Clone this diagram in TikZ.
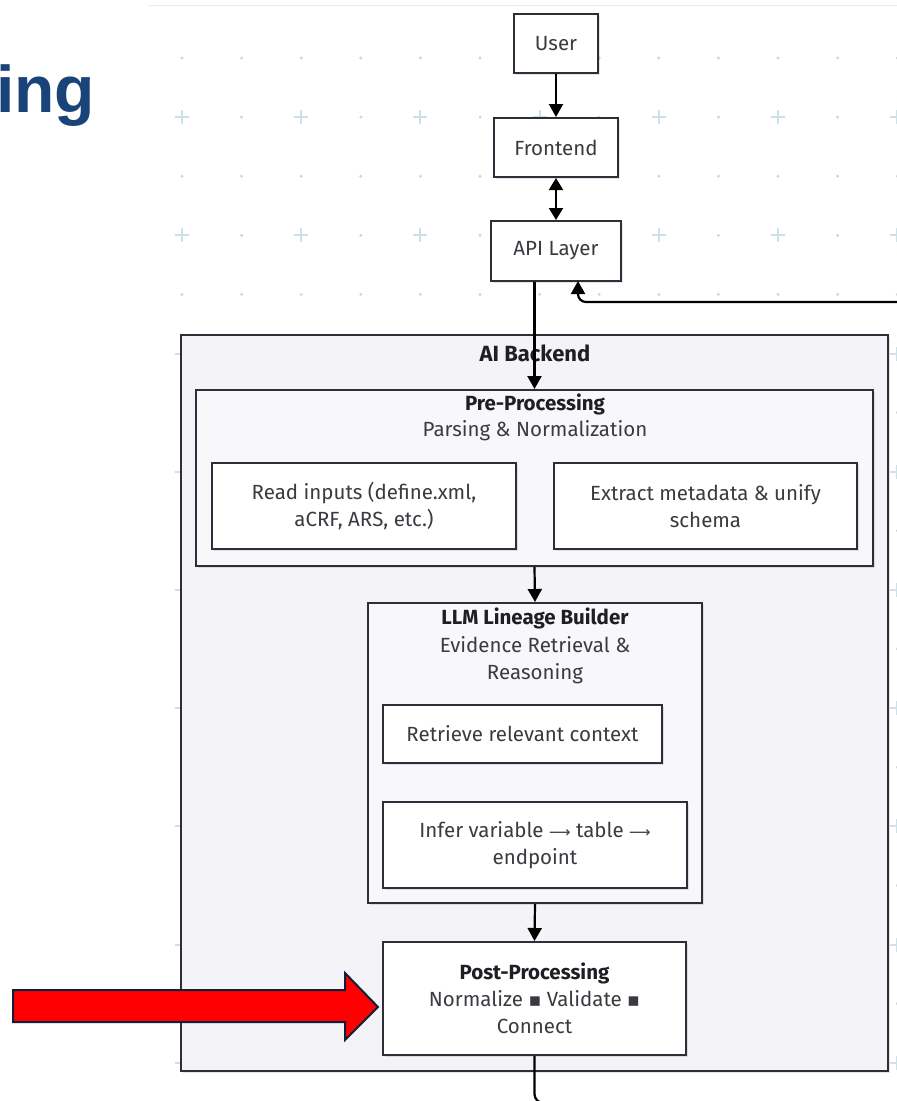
\documentclass[tikz,border=0pt]{standalone}
\usepackage{fontspec}
\setmainfont{Fira Sans}
\newfontfamily\titlefont{Liberation Sans}
\newfontfamily\symfont{DejaVu Sans}
\usetikzlibrary{arrows.meta,shadows}
\definecolor{edgecol}{HTML}{2E2E38}
\definecolor{txtcol}{HTML}{3A3A40}
\definecolor{headcol}{HTML}{1E1E24}
\definecolor{backfill}{HTML}{F4F4F8}
\definecolor{prefill}{HTML}{F8F8FB}
\definecolor{titleblue}{HTML}{1A4479}
\definecolor{pluscol}{HTML}{CBE3E6}
\definecolor{dotcol}{HTML}{D2D2D8}
\definecolor{navy}{HTML}{0F1F38}
\definecolor{arrowred}{HTML}{FF0000}
\newcommand{\rarr}{{\symfont\fontsize{15}{27}\selectfont ⟶}}
\newcommand{\sqsep}{{\symfont\fontsize{19}{27}\selectfont ▪}}
\tikzset{
  boxbase/.style={draw=edgecol, line width=2pt, inner sep=0pt, align=center,
    text=txtcol, font=\fontsize{20.5}{27}\selectfont,
    drop shadow={shadow xshift=1.5pt, shadow yshift=-1.5pt, fill=black, opacity=0.10}},
  whitebox/.style={boxbase, fill=white},
  container/.style={boxbase, fill=backfill},
  subcontainer/.style={boxbase, fill=prefill},
  headtxt/.style={inner sep=0pt, text=headcol, font=\fontsize{20.5}{27}\selectfont\bfseries},
  subtxt/.style={inner sep=0pt, text=txtcol, align=center, font=\fontsize{20.5}{27}\selectfont},
  conn/.style={draw=black, line width=2.2pt},
  arr/.style={conn, -{Triangle[length=13pt,width=14pt]}},
  darr/.style={conn, {Triangle[length=12pt,width=14pt]}-{Triangle[length=12pt,width=14pt]}}
}
\begin{document}
\begin{tikzpicture}[x=1pt,y=-1pt]
\useasboundingbox (0,0) rectangle (897,1101);
\fill[white] (0,0) rectangle (897,1101);
% background grid
\draw[black!8, line width=1pt] (148,5) -- (897,5);
\foreach \i in {0,...,12}{
  \foreach \j in {0,...,17}{
    \pgfmathsetmacro\gx{182+59.6*\i}
    \pgfmathsetmacro\gy{58+59.1*\j}
    \ifodd\j
      \ifodd\i
        \fill[dotcol] (\gx,\gy) circle (1.6pt);
      \else
        \draw[pluscol, line width=2pt] (\gx-7,\gy) -- (\gx+7,\gy) (\gx,\gy-7) -- (\gx,\gy+7);
      \fi
    \else
      \fill[dotcol] (\gx,\gy) circle (1.6pt);
    \fi
  }
}
% title fragment
\node[anchor=base west, inner sep=0pt, text=titleblue,
  font=\titlefont\bfseries\fontsize{66}{66}\selectfont] (title) at (-4,112) {ing};
% top nodes
\node[whitebox, minimum width=84pt, minimum height=59pt] (user) at (556,43.5) {User};
\node[whitebox, minimum width=124pt, minimum height=59pt] (front) at (556,147.5) {Frontend};
\node[whitebox, minimum width=130pt, minimum height=60pt] (api) at (556,251) {API Layer};
% containers
\node[container, minimum width=707pt, minimum height=736pt] (backend) at (534.5,703) {};
\node[headtxt, font=\fontsize{22}{27}\selectfont\bfseries] (backendT) at (535,353) {AI Backend};
\node[subcontainer, minimum width=677pt, minimum height=176pt] (pre) at (534.5,478) {};
\node[headtxt] (preT) at (535,404) {Pre-Processing};
\node[subtxt] (preS) at (535,431) {Parsing \& Normalization};
\node[whitebox, minimum width=304pt, minimum height=86pt] (read) at (364,506) {Read inputs (define.xml,\\aCRF, ARS, etc.)};
\node[whitebox, minimum width=303pt, minimum height=86pt] (extract) at (705.5,506) {Extract metadata \& unify\\schema};
\node[subcontainer, minimum width=334pt, minimum height=300pt] (llm) at (535,753) {};
\node[headtxt] (llmT) at (535,618) {LLM Lineage Builder};
\node[subtxt] (llmS) at (535,660) {Evidence Retrieval \&\\Reasoning};
\node[whitebox, minimum width=279pt, minimum height=58pt] (retrieve) at (522.5,734) {Retrieve relevant context};
\node[whitebox, minimum width=304pt, minimum height=86pt] (infer) at (535,845) {Infer variable \rarr{} table \rarr\\endpoint};
\node[whitebox, minimum width=303pt, minimum height=113pt] (post) at (534.5,998.5) {{\bfseries\color{headcol}Post-Processing}\\Normalize \sqsep{} Validate \sqsep\\Connect};
% connectors
\coordinate (apiR) at (578,281);
\coordinate (rin) at (905,302);
\coordinate (bout) at (620,1103);
\draw[arr] (user) -- (front);
\draw[darr] (front) -- (api);
\draw[arr] (api.south -| pre.north) -- (pre.north);
\draw[arr] (pre.south) -- (llm.north);
\draw[arr] (llm.south) -- (post.north);
\draw[conn, rounded corners=9pt] (post.south) |- (bout);
\draw[arr, rounded corners=8pt] (rin) -| (apiR);
% red pointer arrow
\draw[draw=navy, fill=arrowred, line width=2pt, line join=miter]
  (13,990) -- (345,990) -- (345,973) -- (378,1007) -- (345,1040) -- (345,1022) -- (13,1022) -- cycle;
\end{tikzpicture}
\end{document}
